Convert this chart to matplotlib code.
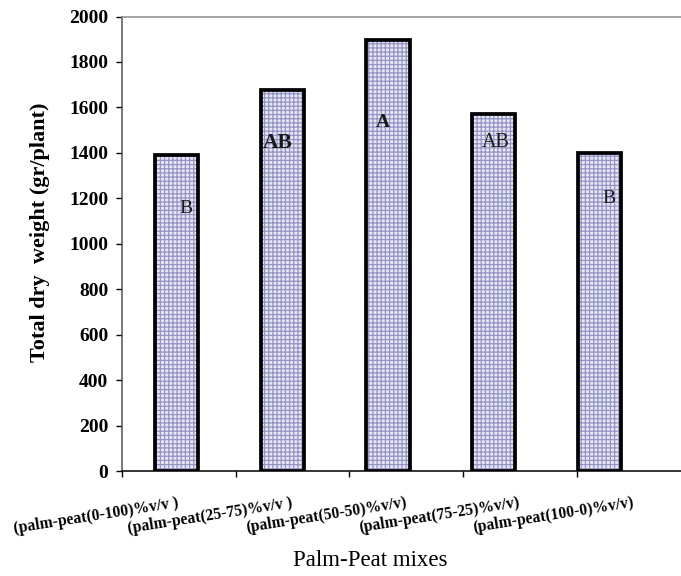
import numpy as np
import matplotlib
matplotlib.use("Agg")
import matplotlib.pyplot as plt

# Palm-peat mixing ratios and total dry weight per plant
treatments = ['(palm-peat(0-100)%v/v )', '(palm-peat(25-75)%v/v )',
              '(palm-peat(50-50)%v/v)', '(palm-peat(75-25)%v/v)',
              '(palm-peat(100-0)%v/v)']
dry_weight = [1390, 1675, 1895, 1570, 1400]
groups = ['B', 'AB', 'A', 'AB', 'B']

# where the group letters sit inside each bar
letter_y = [1154, 1445, 1533, 1445, 1198]
letter_dx = [0.085, -0.04, -0.05, 0.015, 0.09]
letter_bold = [False, True, True, False, False]
letter_size = [14, 15.5, 14, 14.5, 14]

plt.rcParams['font.family'] = ['Liberation Serif', 'DejaVu Serif']
plt.rcParams['hatch.linewidth'] = 0.9

fig = plt.figure(figsize=(6.81, 5.76), dpi=100)
ax = fig.add_axes([122 / 681, 105 / 576, 568.6 / 681, 454.5 / 576])

x = np.arange(len(dry_weight))
# checkered fill, then the heavy black outline on top
ax.bar(x, dry_weight, width=0.41, color='#e8e8f4', edgecolor='#9494c6',
       hatch='++++', linewidth=0, zorder=2)
ax.bar(x, dry_weight, width=0.41, fill=False, edgecolor='black',
       linewidth=2.7, zorder=3)

for xi, y, dx, g, b, s in zip(x, letter_y, letter_dx, groups, letter_bold, letter_size):
    ax.text(xi + dx, y, g, ha='center', va='center', fontsize=s,
            fontweight='bold' if b else 'normal', color='#1a1a1a', zorder=4)

ax.set_xlim(-0.515, 4.861)
ax.set_ylim(0, 2000)
ax.set_yticks(np.arange(0, 2001, 200))
ax.tick_params(axis='y', direction='out', length=4.3, width=1, pad=5.5,
               labelsize=14)
for lbl in ax.get_yticklabels():
    lbl.set_fontweight('bold')
ax.set_xticks([])

ax.spines['top'].set_color('#8a8a8a')
ax.spines['top'].set_linewidth(1.1)
ax.spines['left'].set_color('#555555')
ax.spines['left'].set_linewidth(1.1)
ax.spines['bottom'].set_color('black')
ax.spines['bottom'].set_linewidth(1.1)
ax.spines['right'].set_visible(False)

ax.set_ylabel('Total dry  weight (gr/plant)', fontsize=16, fontweight='bold')
ax.yaxis.set_label_coords(-0.127, 0.526)

# category axis: ticks on the boundaries, slanted names under each category
cat = ax.twiny()
cat.set_xlim(-0.5, 4.5)
cat.xaxis.set_ticks_position('bottom')
cat.set_xticks(np.arange(-0.5, 5, 1))
cat.set_xticklabels([])
cat.set_xticks(x, minor=True)
cat.set_xticklabels(treatments, minor=True, rotation=9, rotation_mode='anchor',
                    ha='right', va='center', fontsize=11.3, fontweight='bold')
cat.tick_params(axis='x', which='major', direction='out', length=4, width=1)
cat.tick_params(axis='x', which='minor', length=0, pad=23)
for s in cat.spines.values():
    s.set_visible(False)

fig.text(370.5 / 681, 1 - 561 / 576, 'Palm-Peat mixes', ha='center',
         va='center', fontsize=16.5)

fig.savefig('out.png', dpi=100)
